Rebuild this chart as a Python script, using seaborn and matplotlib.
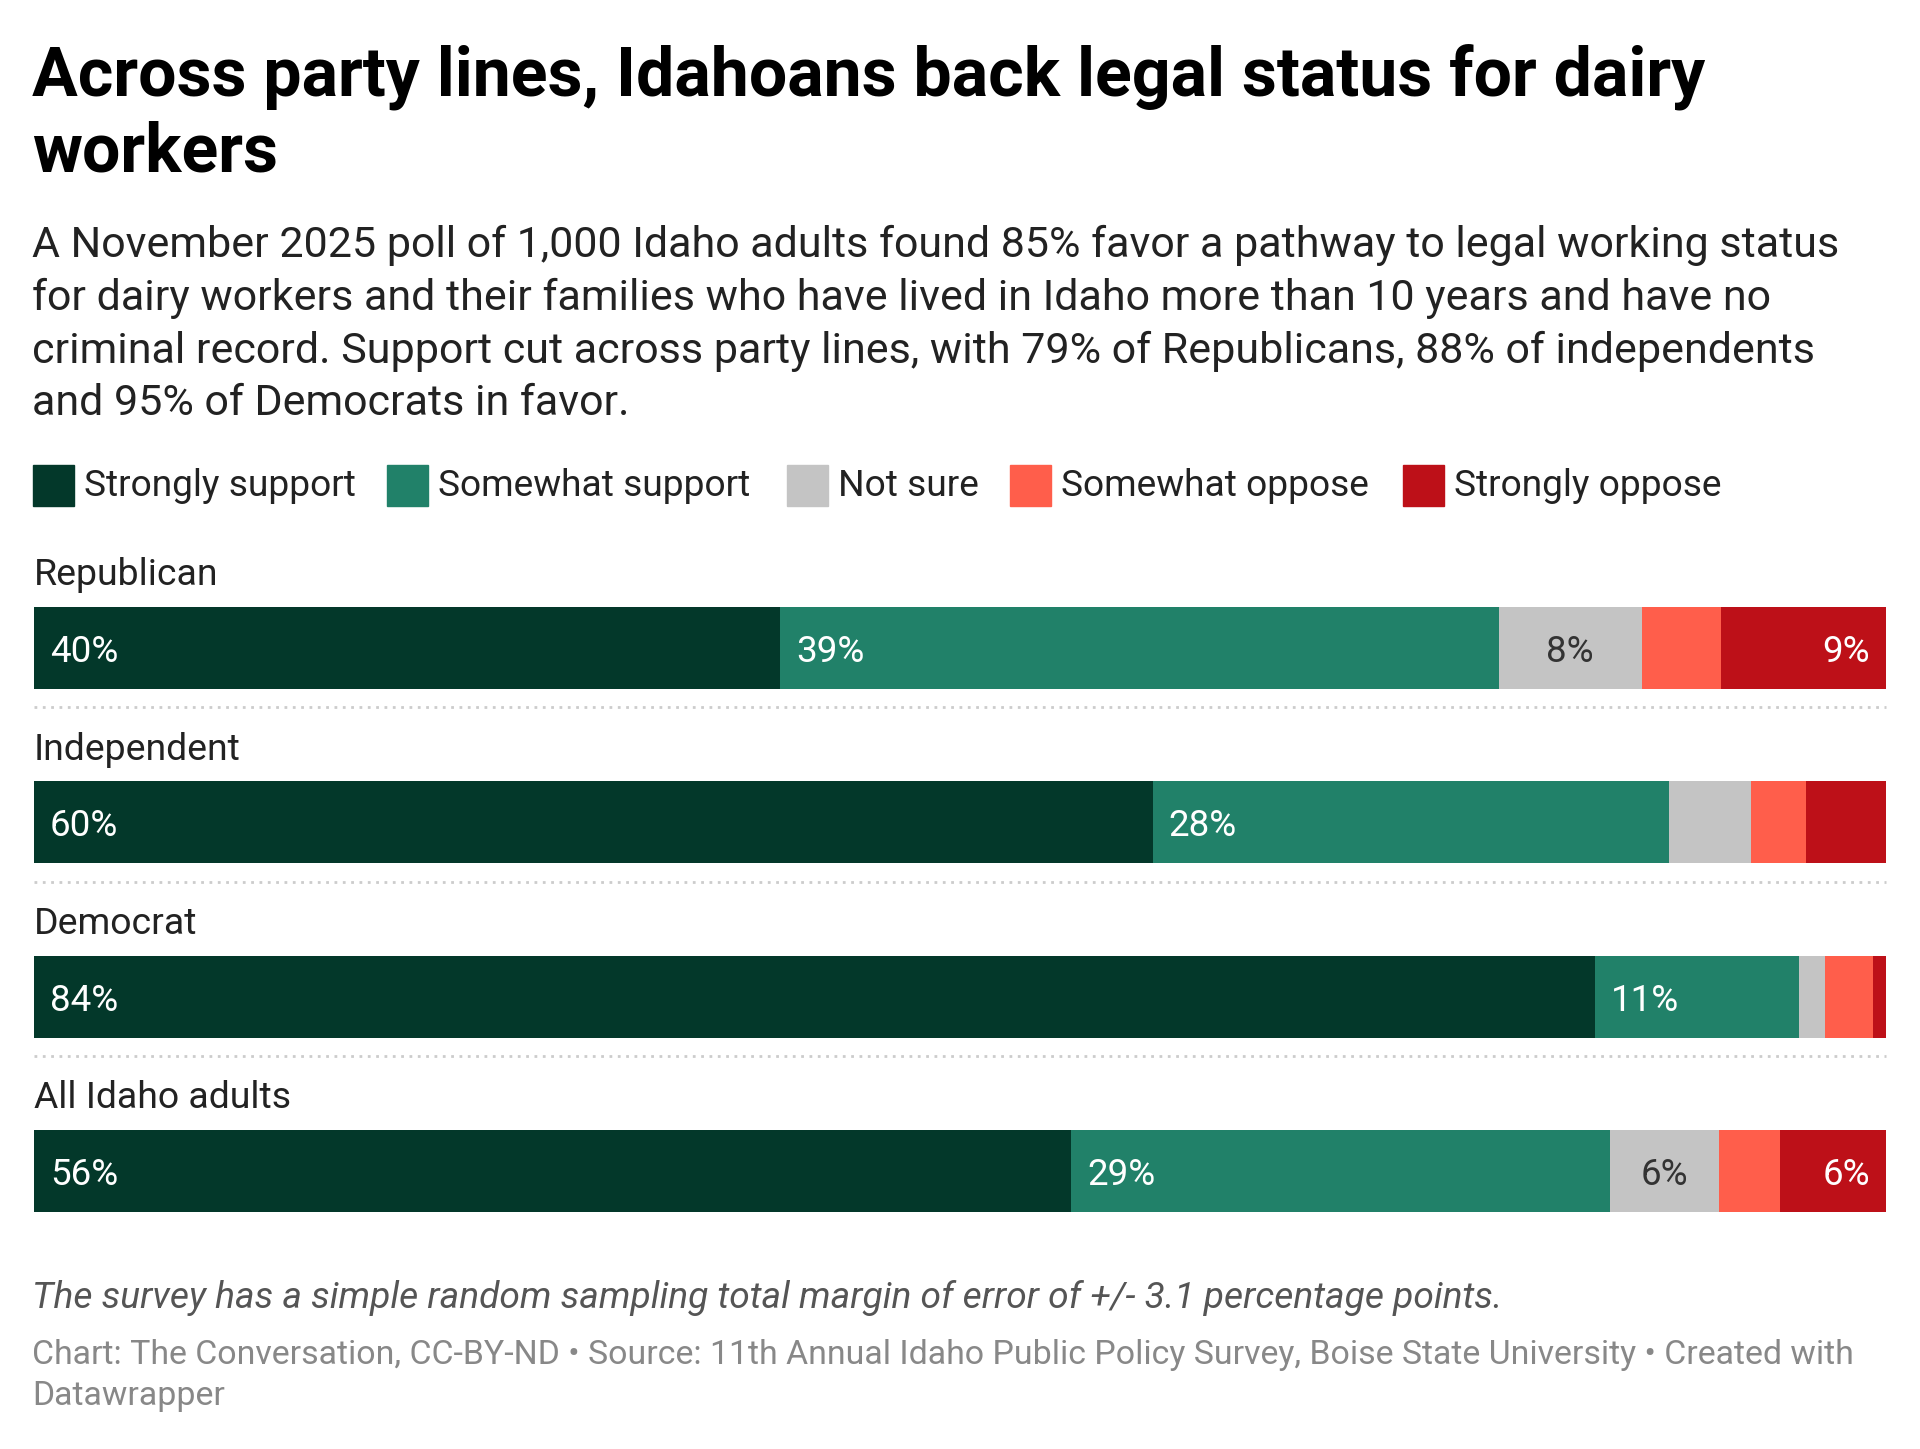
import matplotlib
matplotlib.use("Agg")
import matplotlib.pyplot as plt
import seaborn as sns
import pandas as pd
import numpy as np

sns.set_theme(style="white")
plt.rcParams['font.family'] = ['Roboto', 'DejaVu Sans']

# ---- data ----
groups = ["Republican", "Independent", "Democrat", "All Idaho adults"]
categories = ["Strongly support", "Somewhat support", "Not sure", "Somewhat oppose", "Strongly oppose"]
strongly_support = [40.3, 60.4, 84.3, 56.0]
somewhat_support = [38.8, 27.9, 11.0, 29.1]
not_sure = [7.7, 4.4, 1.4, 5.9]
somewhat_oppose = [4.3, 3.0, 2.6, 3.3]
strongly_oppose = [8.9, 4.3, 0.7, 5.7]
colors = ["#03382a", "#218169", "#c4c4c4", "#ff5e4b", "#bd1018"]
label_colors = ["white", "white", "#333333", "white", "white"]
label_align = ["left", "left", "center", "center", "right"]

series = [strongly_support, somewhat_support, not_sure, somewhat_oppose, strongly_oppose]

rows = []
for gi, g in enumerate(groups):
    cum = 0.0
    for ci, c in enumerate(categories):
        start = cum
        cum += series[ci][gi]
        rows.append(dict(group=g, category=c, value=series[ci][gi], start=start, end=cum))
df = pd.DataFrame(rows)

W, H = 1920, 1449
fig = plt.figure(figsize=(W / 100, H / 100), dpi=100)

def fx(px):
    return px / W

def fy(py):
    return 1 - py / H

# ---- title / subtitle ----
fig.text(fx(32), fy(95), "Across party lines, Idahoans back legal status for dairy",
         fontsize=49, fontweight="bold", color="#000000", va="baseline", ha="left")
fig.text(fx(32), fy(171), "workers",
         fontsize=49, fontweight="bold", color="#000000", va="baseline", ha="left")
subtitle = [
    "A November 2025 poll of 1,000 Idaho adults found 85% favor a pathway to legal working status",
    "for dairy workers and their families who have lived in Idaho more than 10 years and have no",
    "criminal record. Support cut across party lines, with 79% of Republicans, 88% of independents",
    "and 95% of Democrats in favor.",
]
for i, line in enumerate(subtitle):
    fig.text(fx(32), fy(257 + i * 52.8), line, fontsize=31, color="#222222",
             va="baseline", ha="left")

# ---- legend ----
leg_x = [33, 387, 787, 1010, 1403]
for x0, c, col in zip(leg_x, categories, colors):
    fig.patches.append(plt.Rectangle((fx(x0), fy(506)), fx(41), 41 / H,
                                     transform=fig.transFigure, color=col))
    fig.text(fx(x0 + 51), fy(486), c, fontsize=26.7, color="#222222", va="center", ha="left")

# ---- bars ----
top, bottom = 561, 1258
ax = fig.add_axes([fx(34), fy(bottom), fx(1886 - 34), (bottom - top) / H])
order = groups
for ci in range(len(categories) - 1, -1, -1):
    sub = df[df["category"] == categories[ci]]
    sns.barplot(data=sub, y="group", x="end", order=order, color=colors[ci],
                orient="h", width=0.47, errorbar=None, ax=ax,
                saturation=1, linewidth=0)
ax.set_xlim(0, 100)
ax.set_ylim(3.5, -0.5)
ax.axis("off")

pad = 100 * 16 / (1886 - 34)
for _, r in df.iterrows():
    if r["value"] < 5:
        continue
    gi = groups.index(r["group"])
    ci = categories.index(r["category"])
    txt = f"{round(r['value']):.0f}%"
    al = label_align[ci]
    if al == "left":
        x = r["start"] + pad
    elif al == "right":
        x = r["end"] - pad
    else:
        x = (r["start"] + r["end"]) / 2
    ax.text(x, gi, txt, ha=al, va="center_baseline", fontsize=26.5, color=label_colors[ci])

for gi, g in enumerate(groups):
    ax.text(0, gi - 0.36, g, ha="left", va="baseline", fontsize=26.9, color="#222222",
            clip_on=False)
    if gi < len(groups) - 1:
        ax.plot([0, 100], [gi + 0.34, gi + 0.34], color="#cccccc", linestyle=(0, (1, 2)),
                linewidth=2, clip_on=False)

# ---- footer ----
fig.text(fx(32), fy(1308), "The survey has a simple random sampling total margin of error of +/- 3.1 percentage points.",
         fontsize=26.7, fontstyle="italic", color="#555555", va="baseline", ha="left")
fig.text(fx(32), fy(1364), "Chart: The Conversation, CC-BY-ND \u2022 Source: 11th Annual Idaho Public Policy Survey, Boise State University \u2022 Created with",
         fontsize=24.4, color="#888888", va="baseline", ha="left")
fig.text(fx(32), fy(1405), "Datawrapper",
         fontsize=24.4, color="#888888", va="baseline", ha="left")

fig.savefig("out.png", dpi=100, facecolor="white")
